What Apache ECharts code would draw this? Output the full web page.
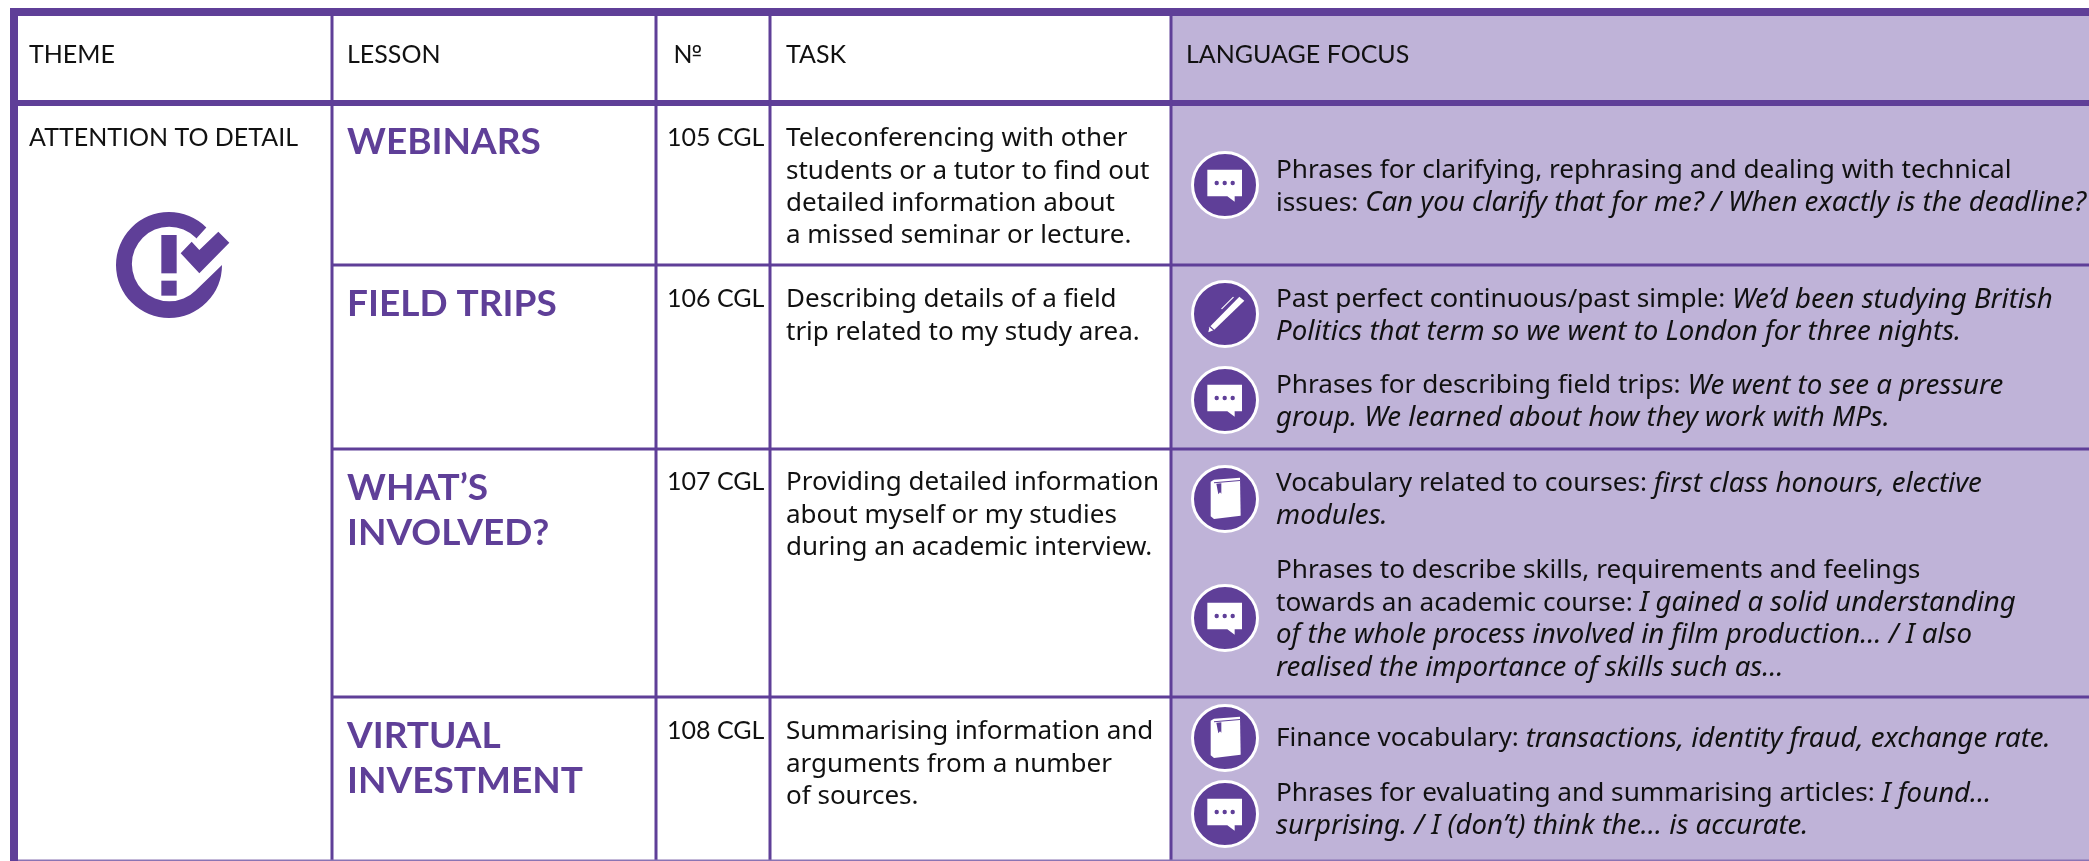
<!DOCTYPE html>
<html>
<head>
<meta charset="utf-8">
<title>Lesson overview</title>
<script src="https://cdn.jsdelivr.net/npm/echarts@6/dist/echarts.min.js"></script>
<style>
  html, body { margin: 0; padding: 0; background: #fff; }
  #main { width: 2089px; height: 861px; }
</style>
</head>
<body>
<div id="main"></div>
<script>
// table content
const headers = ['THEME', 'LESSON', '№', 'TASK', 'LANGUAGE FOCUS']
const theme = 'ATTENTION TO DETAIL'
const lessons = [['WEBINARS'], ['FIELD TRIPS'], ['WHAT’S', 'INVOLVED?'], ['VIRTUAL', 'INVESTMENT']]
const numbers = ['105 CGL', '106 CGL', '107 CGL', '108 CGL']
const tasks = [
  ['Teleconferencing with other', 'students or a tutor to find out', 'detailed information about', 'a missed seminar or lecture.'],
  ['Describing details of a field', 'trip related to my study area.'],
  ['Providing detailed information', 'about myself or my studies', 'during an academic interview.'],
  ['Summarising information and', 'arguments from a number', 'of sources.']
]
const focusIcons = ['chat', 'pen', 'chat', 'book', 'chat', 'book', 'chat']
const focusLines = [
  ['Phrases for clarifying, rephrasing and dealing with technical', 'issues: {i|Can you clarify that for me? / When exactly is the deadline?}'],
  ['Past perfect continuous/past simple: {i|We’d been studying British}', '{i|Politics that term so we went to London for three nights.}'],
  ['Phrases for describing field trips: {i|We went to see a pressure}', '{i|group. We learned about how they work with MPs.}'],
  ['Vocabulary related to courses: {i|first class honours, elective}', '{i|modules.}'],
  ['Phrases to describe skills, requirements and feelings', 'towards an academic course: {i|I gained a solid understanding}', '{i|of the whole process involved in film production… / I also}', '{i|realised the importance of skills such as…}'],
  ['Finance vocabulary: {i|transactions, identity fraud, exchange rate.}'],
  ['Phrases for evaluating and summarising articles: {i|I found…}', '{i|surprising. / I (don’t) think the… is accurate.}']
]

// layout, in page pixels
const colEdges = [18, 332, 656, 770, 1171, 2089]
const rowEdges = [16, 103, 265, 449, 697, 860]
const headerY = 55
const themeY = 138
const lessonY = [142, 304, 488, 736]
const rowTextY = [138, 299, 482, 731]
const taskY = [139, 300, 483, 732]
const focusY = [171, 300, 386, 484, 571, 739, 794]
const iconY = [185, 314, 400, 499, 618, 738, 814]
const textX = [29, 347, 667, 786, 1276]
const iconX = 1225

const PURPLE = '#5f3f98'
const LAVENDER = '#bfb3d8'
const INK = '#111111'
const HEAD_FONT = 'Lato, sans-serif'
const BODY_FONT = '"Noto Sans", sans-serif'

function rect(api, x0, y0, x1, y1, fill) {
  const a = api.coord([x0, y0])
  const b = api.coord([x1, y1])
  return { type: 'rect', shape: { x: a[0], y: a[1], width: b[0] - a[0], height: b[1] - a[1] }, style: { fill: fill } }
}

function label(api, x, y, text, size, font, color, weight) {
  const p = api.coord([x, y])
  return {
    type: 'text',
    x: p[0],
    y: p[1],
    style: {
      text: text,
      fontFamily: font,
      fontSize: size,
      fontWeight: weight || 'normal',
      fill: color || INK,
      verticalAlign: 'middle',
      // the italic of the reference runs wider than Noto's, so it gets a larger size
      rich: { i: { fontFamily: font, fontSize: size * 1.055, fontStyle: 'italic', fill: color || INK } }
    }
  }
}

function pts(api, cx, cy, list) {
  return list.map(function (q) { return api.coord([cx + q[0] / 3, cy + q[1] / 3]) })
}

function poly(api, cx, cy, list, fill) {
  return { type: 'polygon', shape: { points: pts(api, cx, cy, list) }, style: { fill: fill } }
}

function circle(api, cx, cy, r, style) {
  const c = api.coord([cx, cy])
  return { type: 'circle', shape: { cx: c[0], cy: c[1], r: r }, style: style }
}

function focusIcon(api, name, cx, cy) {
  const out = [circle(api, cx, cy, 32.5, { fill: PURPLE, stroke: '#fff', lineWidth: 3 })]
  if (name === 'chat') {
    out.push(poly(api, cx, cy, [[-53, -46], [51, -46], [51, 34], [29, 34], [29, 50], [7, 34], [-53, 34]], '#fff'))
    out.push(circle(api, cx - 8.3, cy - 2, 2.2, { fill: PURPLE }))
    out.push(circle(api, cx - 0.3, cy - 2, 2.2, { fill: PURPLE }))
    out.push(circle(api, cx + 7.7, cy - 2, 2.2, { fill: PURPLE }))
  } else if (name === 'book') {
    out.push(poly(api, cx, cy, [[-43, -52], [-33, -58], [45, -64], [47, 50], [-33, 60], [-43, 52]], '#fff'))
    out.push(poly(api, cx, cy, [[-33, -50], [45, -57], [45, -54], [-33, -47]], PURPLE))
    out.push(poly(api, cx, cy, [[-26, -46], [-11, -47], [-11, -16], [-15, -20], [-20, -14]], PURPLE))
  } else if (name === 'pen') {
    out.push(poly(api, cx, cy, [[-50, 55], [-47, 40], [43, -52], [58, -40], [-33, 48]], '#fff'))
    out.push(poly(api, cx, cy, [[-12, -16], [24, -52], [27, -50], [-9, -14]], '#fff'))
    out.push(poly(api, cx, cy, [[-44, 36], [-29, 50], [-32, 52], [-47, 39]], PURPLE))
  }
  return out
}

function themeIcon(api) {
  const ox = 90
  const oy = 190
  const tl = api.coord([116, 212])
  const br = api.coord([222, 318])
  const out = [{
    type: 'path',
    shape: {
      pathData: 'M348 115 A159 159 0 1 0 395 228 L316 304 A112 112 0 1 1 318 148 Z',
      x: tl[0], y: tl[1], width: br[0] - tl[0], height: br[1] - tl[1], layout: 'cover'
    },
    style: { fill: PURPLE }
  }]
  out.push(rect(api, ox + 214 / 3, oy + 135 / 3, ox + 260 / 3, oy + 250 / 3, PURPLE))
  out.push(rect(api, ox + 214 / 3, oy + 272 / 3, ox + 260 / 3, oy + 317 / 3, PURPLE))
  out.push(poly(api, ox, oy, [[272, 190], [305, 155], [328, 180], [385, 125], [418, 158], [328, 250]], PURPLE))
  return out
}

function renderTable(params, api) {
  const kids = []
  // lavender column first, rules on top
  kids.push(rect(api, colEdges[4], rowEdges[0], colEdges[5], rowEdges[5], LAVENDER))
  kids.push(rect(api, 10, 8, 2089, 16, PURPLE))
  kids.push(rect(api, 10, 8, 18, 861, PURPLE))
  kids.push(rect(api, 18, 100, 2089, 106, PURPLE))
  for (let i = 1; i < 5; i++) {
    const w = 3
    kids.push(rect(api, colEdges[i] - w / 2, rowEdges[0], colEdges[i] + w / 2, rowEdges[5], PURPLE))
  }
  for (let r = 2; r < 5; r++) {
    kids.push(rect(api, colEdges[1], rowEdges[r] - 1.5, 2089, rowEdges[r] + 1.5, PURPLE))
  }
  kids.push(rect(api, 18, 859.5, 2089, 861, '#8a74b4'))

  headers.forEach(function (h, i) {
    kids.push(label(api, i === 2 ? 673 : i === 4 ? 1186 : textX[i], headerY, h, 25, HEAD_FONT))
  })
  kids.push(label(api, textX[0], themeY, theme, 25, HEAD_FONT))
  themeIcon(api).forEach(function (k) { kids.push(k) })

  lessons.forEach(function (lines, r) {
    lines.forEach(function (t, i) {
      kids.push(label(api, textX[1], lessonY[r] + i * 45, t, 37, HEAD_FONT, PURPLE, 'bold'))
    })
    kids.push(label(api, textX[2], rowTextY[r], numbers[r], 25, HEAD_FONT))
    tasks[r].forEach(function (t, i) {
      kids.push(label(api, textX[3], taskY[r] + i * 32.3, t, 26, BODY_FONT))
    })
  })

  focusLines.forEach(function (lines, r) {
    lines.forEach(function (t, i) {
      kids.push(label(api, textX[4], focusY[r] + i * 32.3, t, 26.2, BODY_FONT))
    })
    focusIcon(api, focusIcons[r], iconX, iconY[r]).forEach(function (k) { kids.push(k) })
  })
  return { type: 'group', children: kids }
}

const chart = echarts.init(document.getElementById('main'), null, { renderer: 'canvas' })
chart.setOption({
  animation: false,
  tooltip: { show: false },
  grid: { left: 0, right: 0, top: 0, bottom: 0 },
  xAxis: { type: 'value', min: 0, max: 2089, show: false },
  yAxis: { type: 'value', min: 0, max: 861, inverse: true, show: false },
  series: [{
    type: 'custom',
    coordinateSystem: 'cartesian2d',
    silent: true,
    clip: false,
    data: [[0, 0]],
    renderItem: renderTable
  }]
})
window.addEventListener('resize', () => {
  chart.resize()
})
</script>
</body>
</html>
